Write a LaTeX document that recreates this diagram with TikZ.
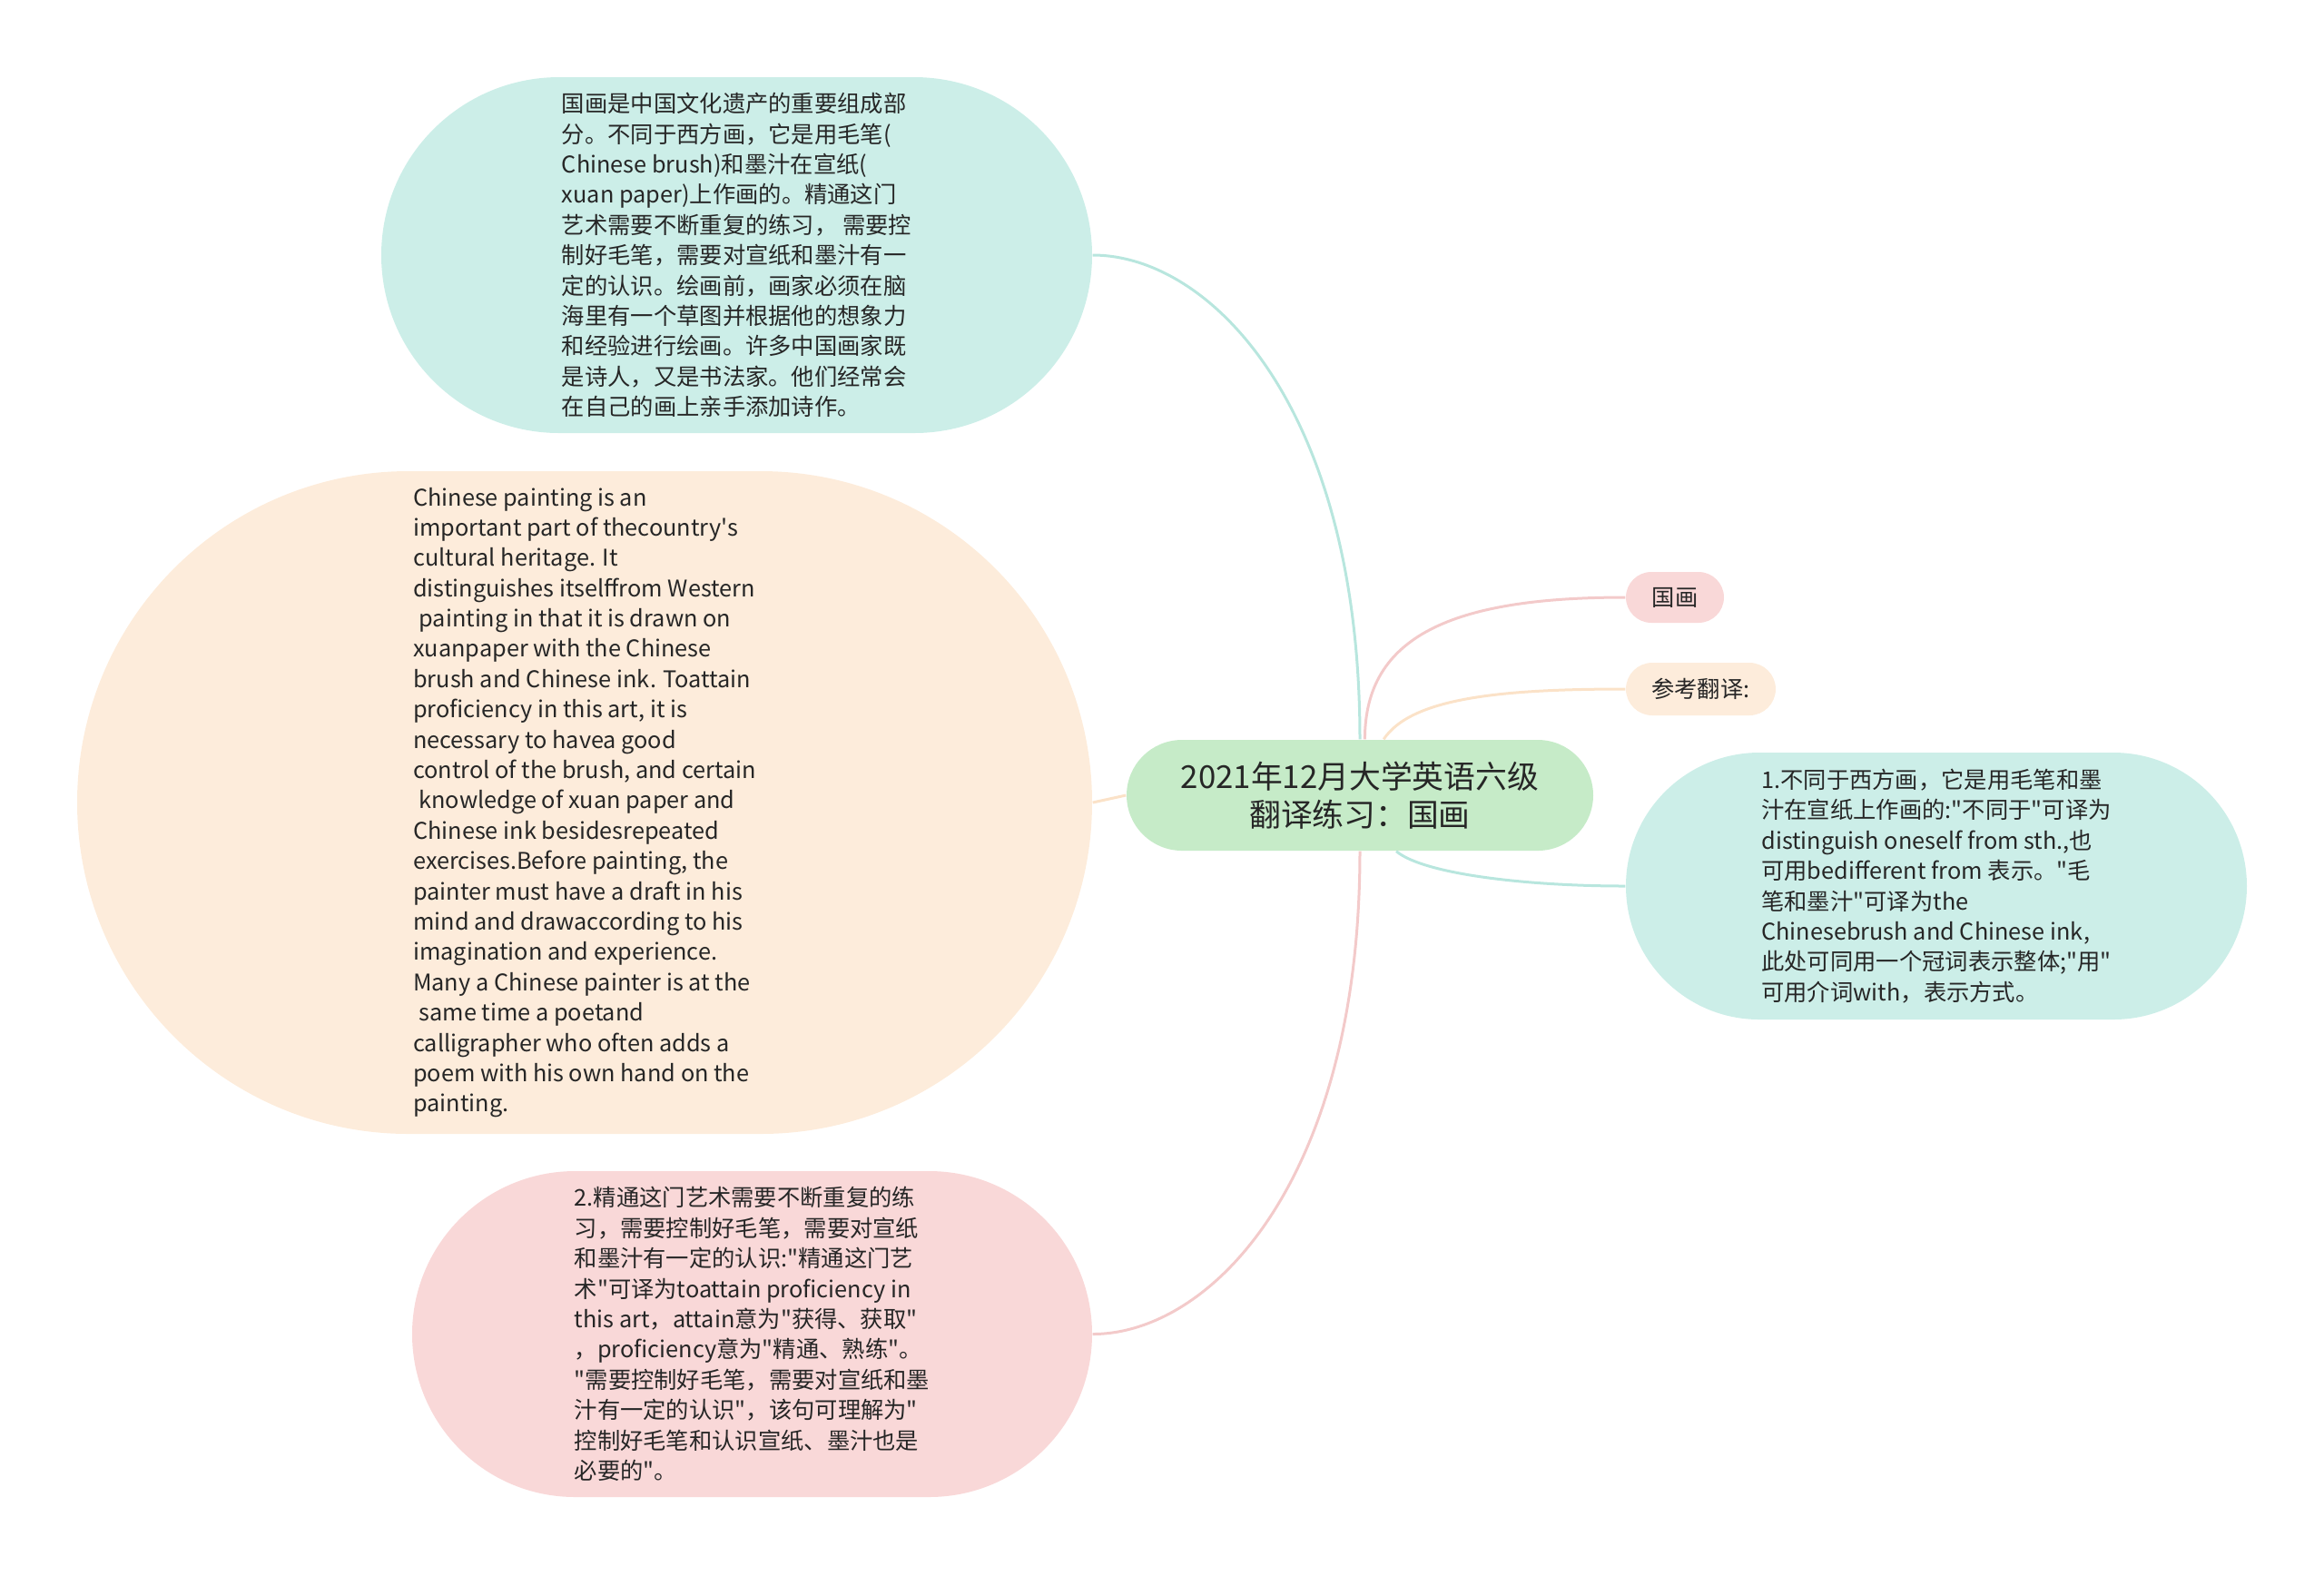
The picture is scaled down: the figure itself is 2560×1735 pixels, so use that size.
\documentclass[tikz,border=0pt]{standalone}
\usepackage{fontspec}
\setmainfont{Noto Sans CJK SC}[Ligatures=TeXOff]
\usetikzlibrary{shapes.misc}
\definecolor{qing}{HTML}{CCEEE8}
\definecolor{cheng}{HTML}{FDECDB}
\definecolor{fen}{HTML}{F9D8D8}
\definecolor{lv}{HTML}{C6EBC8}
\definecolor{qingline}{HTML}{B8E6DE}
\definecolor{chengline}{HTML}{FBE2C8}
\definecolor{fenline}{HTML}{F3CACA}
\tikzset{
    bubble/.style={shape=rounded rectangle, inner sep=0pt, text=black!85, align=left,
        font=\fontsize{7.2pt}{9.5pt}\selectfont},
    link/.style={line width=0.3mm}
}
\begin{document}
\begin{tikzpicture}[x=0.1mm, y=-0.1mm]
    \useasboundingbox (0,0) rectangle (2560,1735);
    % 中心主题
    \node[bubble, fill=lv, align=center, minimum width=51.4mm, minimum height=12.2mm,
        font=\fontsize{9.9pt}{11.9pt}\selectfont] (main) at (1498,876) {2021年12月大学英语六级\\翻译练习：国画};
    % 左侧分支
    \node[bubble, fill=qing, minimum width=78.3mm, minimum height=39.2mm] (topbox) at (811.5,281) {国画是中国文化遗产的重要组成部\\分。不同于西方画，它是用毛笔(\\Chinese brush)和墨汁在宣纸(\\xuan paper)上作画的。精通这门\\艺术需要不断重复的练习， 需要控\\制好毛笔，需要对宣纸和墨汁有一\\定的认识。绘画前，画家必须在脑\\海里有一个草图并根据他的想象力\\和经验进行绘画。许多中国画家既\\是诗人，又是书法家。他们经常会\\在自己的画上亲手添加诗作。};
    \node[bubble, fill=cheng, minimum width=111.8mm, minimum height=73mm] (engbox) at (644,884) {Chinese painting is an\\important part of thecountry's\\cultural heritage. It\\distinguishes itselffrom Western\\\hspace*{0.25em}painting in that it is drawn on\\xuanpaper with the Chinese\\brush and Chinese ink. Toattain\\proficiency in this art, it is\\necessary to havea good\\control of the brush, and certain\\\hspace*{0.25em}knowledge of xuan paper and\\Chinese ink besidesrepeated\\exercises.Before painting, the\\painter must have a draft in his\\mind and drawaccording to his\\imagination and experience.\\Many a Chinese painter is at the\\\hspace*{0.25em}same time a poetand\\calligrapher who often adds a\\poem with his own hand on the\\painting.};
    \node[bubble, fill=fen, minimum width=74.9mm, minimum height=35.9mm] (notetwo) at (828.5,1469.5) {2.精通这门艺术需要不断重复的练\\习，需要控制好毛笔，需要对宣纸\\和墨汁有一定的认识:"精通这门艺\\术"可译为toattain proficiency in\\this art，attain意为"获得、获取"\\，proficiency意为"精通、熟练"。\\"需要控制好毛笔，需要对宣纸和墨\\汁有一定的认识"，该句可理解为"\\控制好毛笔和认识宣纸、墨汁也是\\必要的"。};
    % 右侧分支
    \node[bubble, fill=fen, align=center, minimum width=10.8mm, minimum height=5.6mm] (tagguohua) at (1845,658) {国画};
    \node[bubble, fill=cheng, align=center, minimum width=16.5mm, minimum height=5.8mm] (tagref) at (1873.5,759) {参考翻译:};
    \node[bubble, fill=qing, minimum width=68.4mm, minimum height=29.4mm] (noteone) at (2133,976) {1.不同于西方画，它是用毛笔和墨\\汁在宣纸上作画的:"不同于"可译为\\distinguish oneself from sth.,也\\可用bedifferent from 表示。"毛\\笔和墨汁"可译为the\\Chinesebrush and Chinese ink,\\此处可同用一个冠词表示整体;"用"\\可用介词with，表示方式。};
    % 连线
    \draw[link, qingline] (main.north) .. controls +(0,-365) and +(130,0) .. (topbox.east);
    \draw[link, chengline] (engbox.east) -- (main.west);
    \draw[link, fenline] (main.south) .. controls +(0,363) and +(130,0) .. (notetwo.east);
    \draw[link, fenline] (main.85) .. controls +(0,-114) and +(-190,0) .. (tagguohua.west);
    \draw[link, chengline] (main.67) .. controls +(30,-45) and +(-140,0) .. (tagref.west);
    \draw[link, qingline] (main.-57) .. controls +(30,25) and +(-110,0) .. (noteone.west);
\end{tikzpicture}
\end{document}
